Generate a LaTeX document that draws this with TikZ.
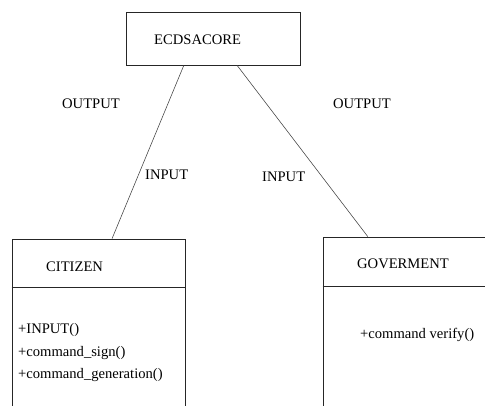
\documentclass[tikz,border=0pt]{standalone}
\usepackage{fontspec}
\setmainfont{Liberation Serif}
\usetikzlibrary{calc}
\begin{document}
\begin{tikzpicture}[x=1pt,y=-1pt,
  box/.style={draw=black!85,line width=0.8pt,inner sep=0pt,rectangle},
  txt/.style={font=\fontsize{14.6}{16}\selectfont,inner sep=0pt,anchor=west,text=black},
  link/.style={draw=black!75,line width=0.55pt}]
\clip (0,0) rectangle (485,405);
\fill[white] (0,0) rectangle (485,405);
% boxes
\node[box,minimum width=174pt,minimum height=53pt] (core) at (213,38.5) {};
\node[box,minimum width=173pt,minimum height=180pt] (citizen) at (98.5,329) {};
\node[box,minimum width=180pt,minimum height=180pt] (gov) at (413,327) {};
\draw[draw=black!85,line width=0.8pt] (citizen.west |- 0,287) -- (citizen.east |- 0,287);
\draw[draw=black!85,line width=0.8pt] (gov.west |- 0,286) -- (gov.east |- 0,286);
% texts
\node[txt] (tcore) at (154,40) {ECDSACORE};
\node[txt] (tcit) at (46,267) {CITIZEN};
\node[txt] (m1) at (18,330) {+INPUT()};
\node[txt] (m2) at (18,353) {+command\_sign()};
\node[txt] (m3) at (18,375) {+command\_generation()};
\node[txt] (tgov) at (357,264) {GOVERMENT};
\node[txt] (g1) at (360,335) {+command verify()};
\node[txt] (o1) at (62,104) {OUTPUT};
\node[txt] (o2) at (333,104) {OUTPUT};
\node[txt] (i1) at (145,175) {INPUT};
\node[txt] (i2) at (262,177) {INPUT};
% connectors
\draw[link] ($(core.south west)!0.333!(core.south east)$) -- ($(citizen.north west)!0.578!(citizen.north east)$);
\draw[link] ($(core.south west)!0.638!(core.south east)$) -- ($(gov.north west)!0.25!(gov.north east)$);
\end{tikzpicture}
\end{document}
